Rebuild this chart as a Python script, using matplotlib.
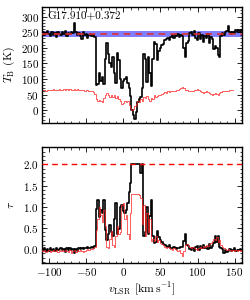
import numpy as np
import matplotlib
matplotlib.use("Agg")
import matplotlib.pyplot as plt
from matplotlib.ticker import MultipleLocator

plt.rcParams["font.family"] = "serif"
plt.rcParams["font.serif"] = ["cmr10"]
plt.rcParams["mathtext.fontset"] = "cm"
plt.rcParams["axes.formatter.use_mathtext"] = True
plt.rcParams["font.size"] = 8

# ----------------------------
# Spectrum data (2 km/s channels)
# ----------------------------

source = "G17.910+0.372"
vel = np.arange(-110, 162, 2)
vel_off = np.arange(-110, 150, 2)

tb_on = [
    248, 252, 240, 246, 255, 244, 238, 250, 242, 247,
    236, 252, 245, 240, 249, 243, 255, 239, 248, 244,
    252, 246, 278, 250, 242, 247, 238, 228, 249, 241,
    245, 232, 240, 243, 238, 241, 236, 82, 85, 120,
    95, 105, 85, 165, 215, 180, 150, 140, 170, 118,
    88, 182, 160, 100, 72, 95, 100, 105, 88, 70,
    45, 0, -15, -27, -5, 25, 35, 42, 72, 180,
    165, 90, 172, 120, 76, 165, 220, 212, 160, 190,
    200, 208, 212, 225, 228, 232, 226, 235, 240, 232,
    242, 238, 244, 236, 240, 238, 200, 172, 215, 222,
    246, 250, 240, 255, 232, 224, 246, 228, 242, 218,
    238, 230, 244, 214, 236, 228, 195, 205, 200, 178,
    170, 238, 248, 242, 250, 255, 270, 250, 245, 252,
    246, 258, 252, 256, 250, 258,
]

tb_off = [
    65, 64, 66, 63, 65, 64, 66, 65, 67, 64,
    66, 65, 68, 66, 64, 67, 65, 68, 66, 67,
    65, 66, 68, 65, 67, 66, 64, 66, 65, 63,
    66, 64, 62, 60, 62, 58, 52, 35, 28, 32,
    30, 25, 40, 48, 55, 50, 42, 48, 42, 50,
    38, 45, 35, 30, 20, 22, 30, 25, 28, 18,
    8, 2, 5, 12, 20, 30, 25, 35, 30, 42,
    38, 45, 35, 28, 40, 35, 48, 42, 45, 50,
    48, 52, 55, 58, 55, 60, 58, 62, 60, 62,
    63, 65, 66, 68, 72, 74, 70, 66, 64, 62,
    63, 60, 62, 65, 64, 67, 64, 60, 58, 56,
    58, 60, 58, 54, 52, 50, 52, 56, 52, 50,
    55, 58, 60, 62, 60, 62, 63, 64, 65, 64,
]

tau_on = [
    0.00, -0.03, 0.02, -0.05, 0.01, -0.04, 0.03, -0.02, 0.00, -0.05,
    0.02, -0.03, 0.01, 0.04, -0.02, 0.00, -0.06, 0.03, -0.01, 0.02,
    -0.03, 0.01, -0.10, 0.00, -0.04, 0.02, 0.01, 0.04, 0.00, 0.03,
    0.02, 0.05, 0.04, 0.03, 0.05, 0.03, 0.08, 0.95, 1.15, 0.75,
    0.92, 0.85, 1.15, 0.45, 0.22, 0.35, 0.58, 0.40, 0.30, 0.72,
    1.10, 0.35, 0.48, 1.00, 1.05, 0.90, 0.85, 0.92, 1.10, 1.35,
    1.55, 2.00, 2.00, 2.00, 2.00, 2.00, 2.00, 1.80, 2.00, 0.30,
    0.40, 1.00, 0.35, 0.78, 1.15, 0.30, 0.15, 0.18, 0.42, 0.28,
    0.22, 0.18, 0.12, 0.10, 0.08, 0.06, 0.10, 0.04, 0.02, 0.05,
    0.03, 0.01, 0.02, 0.04, 0.06, 0.05, 0.20, 0.36, 0.10, 0.08,
    0.00, -0.02, 0.03, -0.04, 0.06, 0.08, -0.01, 0.07, 0.02, 0.10,
    0.03, 0.05, 0.00, 0.12, 0.04, 0.07, 0.15, 0.30, 0.18, 0.32,
    0.05, 0.02, 0.00, -0.08, -0.03, -0.06, -0.04, 0.00, -0.05, -0.02,
    0.02, -0.04, -0.01, -0.03, 0.00, -0.02,
]

tau_fit = [
    -0.02, -0.05, -0.03, -0.06, -0.04, -0.03, -0.07, -0.04, -0.02, -0.05,
    -0.03, -0.06, -0.02, -0.04, -0.03, -0.05, -0.02, -0.04, -0.06, -0.03,
    -0.08, -0.05, -0.03, -0.06, -0.02, -0.04, -0.03, -0.05, -0.06, -0.04,
    -0.02, 0.00, -0.01, 0.01, 0.00, 0.02, 0.05, 0.45, 0.70, 1.00,
    0.80, 0.65, 0.92, 0.55, 0.05, 0.02, 0.25, 0.42, 0.10, 0.05,
    0.30, 0.55, 0.35, 0.40, 1.05, 1.10, 0.70, 0.80, 0.35, 0.25,
    0.85, 1.30, 1.31, 1.30, 1.29, 1.31, 1.28, 1.20, 0.60, 1.05,
    0.30, 0.85, 0.40, 0.70, 0.20, 0.25, 0.20, 0.30, 0.18, 0.22,
    0.15, 0.12, 0.10, 0.05, 0.02, 0.05, 0.03, 0.00, -0.02, 0.02,
    0.00, -0.03, -0.05, -0.02, -0.10, -0.15, -0.05, 0.10, 0.12, 0.08,
    0.05, 0.03, 0.06, 0.02, 0.00, -0.02, 0.04, 0.05, 0.03, 0.08,
    0.06, 0.10, 0.08, 0.12, 0.15, 0.20, 0.25, 0.22, 0.28, 0.18,
    0.22, 0.10, 0.05, 0.02, 0.00, -0.02, 0.00, -0.03, -0.05, -0.02,
    -0.04, -0.03, -0.05, -0.02, -0.04, -0.03,
]

t_cont = 245
t_cont_lo, t_cont_hi = 233, 255
tau_max = 2.0

# ----------------------------
# Figure
# ----------------------------

fig = plt.figure(figsize=(2.5, 3.0), dpi=100)
ax1 = fig.add_axes([0.167, 0.591, 0.801, 0.385])
ax2 = fig.add_axes([0.167, 0.124, 0.801, 0.385])

ax1.axhspan(t_cont_lo, t_cont_hi, color="#0000ff", alpha=0.5, lw=0, zorder=1)
ax1.step(vel, tb_on, where="mid", color="k", lw=1.2, zorder=2)
ax1.step(vel_off, tb_off, where="mid", color="#ff2020", lw=0.6, alpha=0.85, zorder=2)
ax1.axhline(t_cont, color="#e03030", ls=(0, (4, 3)), lw=1.2, zorder=3)
ax1.text(0.03, 0.965, source, transform=ax1.transAxes, ha="left", va="top", fontsize=8)
ax1.set_ylabel(r"$T_{\rm B}$ (K)", fontsize=8.5, labelpad=3)
ax1.set_xlim(-110, 160)
ax1.set_ylim(-40, 330)
ax1.yaxis.set_major_locator(MultipleLocator(50))
ax1.yaxis.set_minor_locator(MultipleLocator(10))
ax1.tick_params(labelbottom=False)

ax2.step(vel, tau_on, where="mid", color="k", lw=1.2, zorder=2)
ax2.step(vel, tau_fit, where="mid", color="#ff2020", lw=0.6, alpha=0.85, zorder=3)
ax2.axhline(tau_max, color="r", ls=(0, (4, 3)), lw=1.0, zorder=3)
ax2.set_ylabel(r"$\tau$", fontsize=8.5, labelpad=5)
ax2.set_xlabel(r"$v_{\rm LSR}$ $[{\rm km\,s^{-1}}]$", fontsize=8.5, labelpad=2)
ax2.set_xlim(-110, 160)
ax2.set_ylim(-0.32, 2.4)
ax2.yaxis.set_major_locator(MultipleLocator(0.5))
ax2.yaxis.set_minor_locator(MultipleLocator(0.1))

for ax in (ax1, ax2):
    ax.xaxis.set_major_locator(MultipleLocator(50))
    ax.xaxis.set_minor_locator(MultipleLocator(10))
    ax.tick_params(which="both", direction="in", top=True, right=True, labelsize=8, pad=2)
    ax.tick_params(which="major", length=3.5, width=0.6)
    ax.tick_params(which="minor", length=1.8, width=0.5)
    for s in ax.spines.values():
        s.set_linewidth(1.0)

fig.savefig("out.png", dpi=100)
plt.close()
